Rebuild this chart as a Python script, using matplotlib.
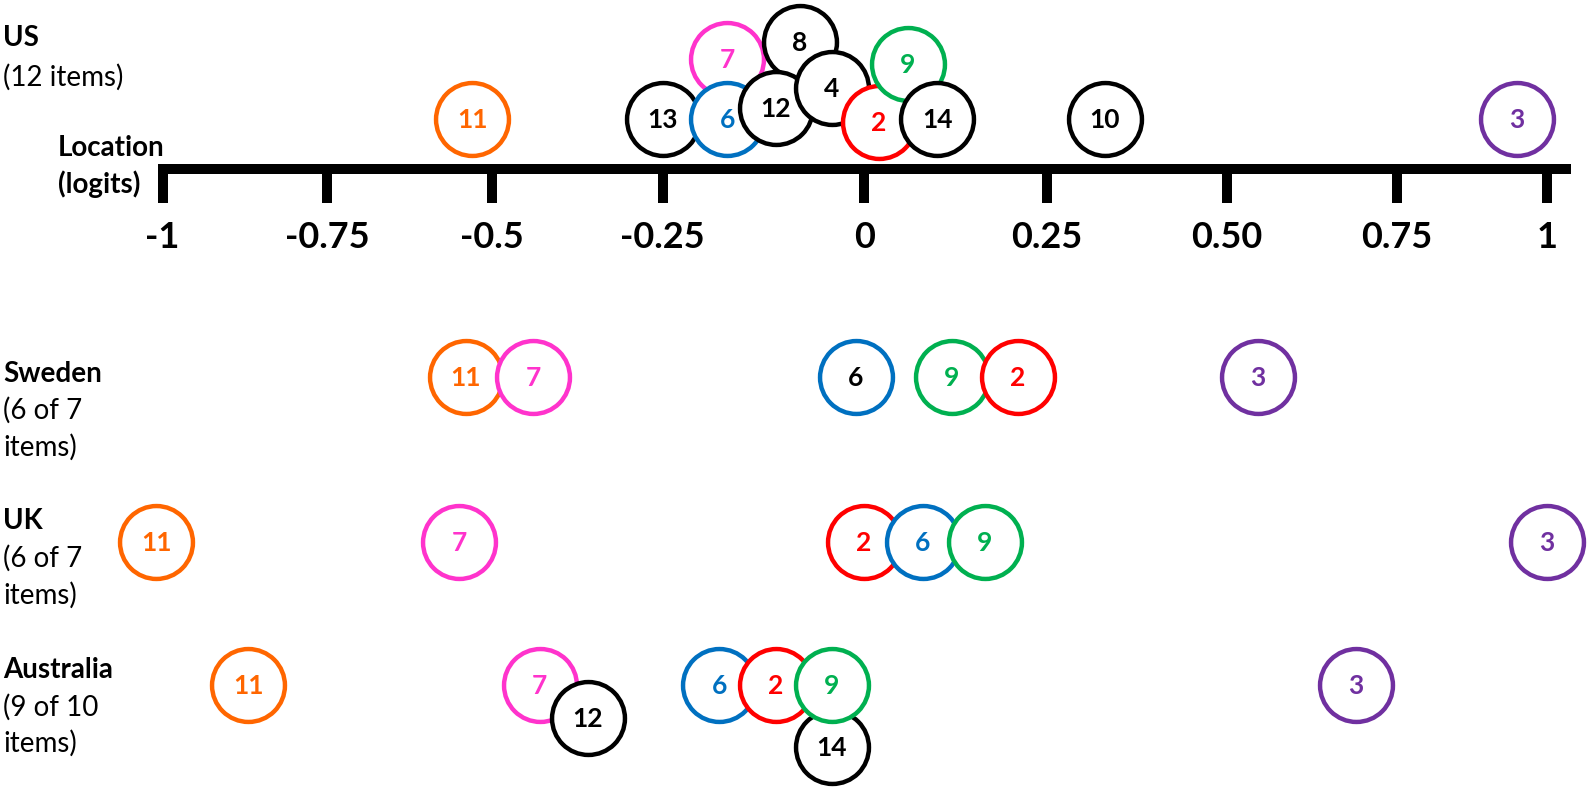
import matplotlib
matplotlib.use('Agg')
import matplotlib.pyplot as plt
import numpy as np

plt.rcParams['font.family'] = ['Lato', 'DejaVu Sans']

# ruler ticks (logits)
tick_values = [-1, -0.75, -0.5, -0.25, 0, 0.25, 0.5, 0.75, 1]
tick_labels = ['-1', '-0.75', '-0.5', '-0.25', '0', '0.25', '0.50', '0.75', '1']

# ring colours per item, black when not listed
item_colors = {2: '#FF0000', 3: '#7030A0', 6: '#0070C0', 7: '#FF33CC',
               9: '#00B050', 11: '#FF6600'}

# item locations per country, in drawing order (later ones sit on top)
us_items = [11, 13, 7, 6, 8, 12, 4, 2, 9, 14, 10, 3]
us_locations = [-0.53, -0.25, -0.17, -0.17, -0.08, -0.11, -0.04, 0.02, 0.06, 0.10, 0.33, 0.95]
us_stack = [0, 0, 60, 0, 77, 11, 31, -3, 55, 0, 0, 0]

sweden_items = [11, 7, 6, 9, 2, 3]
sweden_locations = [-0.54, -0.44, -0.01, 0.12, 0.21, 0.545]
sweden_stack = [0, 0, 0, 0, 0, 0]

uk_items = [11, 7, 2, 6, 9, 3]
uk_locations = [-1.01, -0.55, 0.0, 0.08, 0.165, 1.0]
uk_stack = [0, 0, 0, 0, 0, 0]

aus_items = [11, 7, 12, 6, 2, 14, 9, 3]
aus_locations = [-0.87, -0.43, -0.36, -0.18, -0.11, -0.04, -0.04, 0.69]
aus_stack = [0, 0, -33, 0, 0, -62, 0, 0]

# the hand drawn ruler is not evenly spaced, so map logits onto it piecewise
ruler_px = [162.6, 327.3, 492, 662.8, 864.1, 1047, 1227, 1396.8, 1547.2]
knot_v = [-2] + tick_values + [2]
knot_px = [ruler_px[0] - 4 * (ruler_px[1] - ruler_px[0])] + ruler_px + \
          [ruler_px[-1] + 4 * (ruler_px[-1] - ruler_px[-2])]


def fwd(v):
    return np.interp(v, knot_v, knot_px)


def inv(p):
    return np.interp(p, knot_px, knot_v)


W, H = 1594, 787
fig = plt.figure(figsize=(W / 100, H / 100), dpi=100)
ax = fig.add_axes([0, 0, 1, 1])
ax.set_xscale('function', functions=(fwd, inv))
ax.set_xlim(inv(0), inv(W))
ax.set_ylim(H, 0)
ax.axis('off')

# ruler
axis_y = 169
ax.plot([-1.007, 1.04], [axis_y, axis_y], color='black', lw=7.2, solid_capstyle='butt')
ax.vlines(tick_values, axis_y, 203, color='black', lw=7.2)
for v, lab in zip(tick_values, tick_labels):
    ax.text(v, 237, lab, ha='center', va='center', fontsize=26, fontweight='bold')

rows = [
    (us_items, us_locations, us_stack, 119, False),
    (sweden_items, sweden_locations, sweden_stack, 377, True),
    (uk_items, uk_locations, uk_stack, 542, False),
    (aus_items, aus_locations, aus_stack, 685, False),
]

z = 3
for items, locs, stack, row_y, black_six in rows:
    for item, loc, lift in zip(items, locs, stack):
        col = item_colors.get(item, 'black')
        txt_col = 'black' if (black_six and item == 6) else col
        y = row_y - lift
        ax.plot([loc], [y], 'o', ms=52.5, mfc='white', mec=col, mew=3.2,
                zorder=z, clip_on=False)
        ax.text(loc, y + 1, str(item), ha='center', va='center', fontsize=19,
                fontweight='bold', color=txt_col, zorder=z + 0.5)
        z += 1

# left-hand labels (figure pixels)
labels = [
    ('US', 3, 38, 'bold'), ('(12 items)', 3, 77, 'normal'),
    ('Location', 58, 148, 'bold'), ('(logits)', 58, 184, 'bold'),
    ('Sweden', 3, 374, 'bold'), ('(6 of 7', 3, 410, 'normal'), ('items)', 3, 447, 'normal'),
    ('UK', 3, 521, 'bold'), ('(6 of 7', 3, 558, 'normal'), ('items)', 3, 595, 'normal'),
    ('Australia', 3, 670, 'bold'), ('(9 of 10', 3, 707, 'normal'), ('items)', 3, 743, 'normal'),
]
for s, x, y, w in labels:
    fig.text(x / W, 1 - y / H, s, ha='left', va='center', fontsize=20, fontweight=w)

fig.savefig('out.png', dpi=100)
